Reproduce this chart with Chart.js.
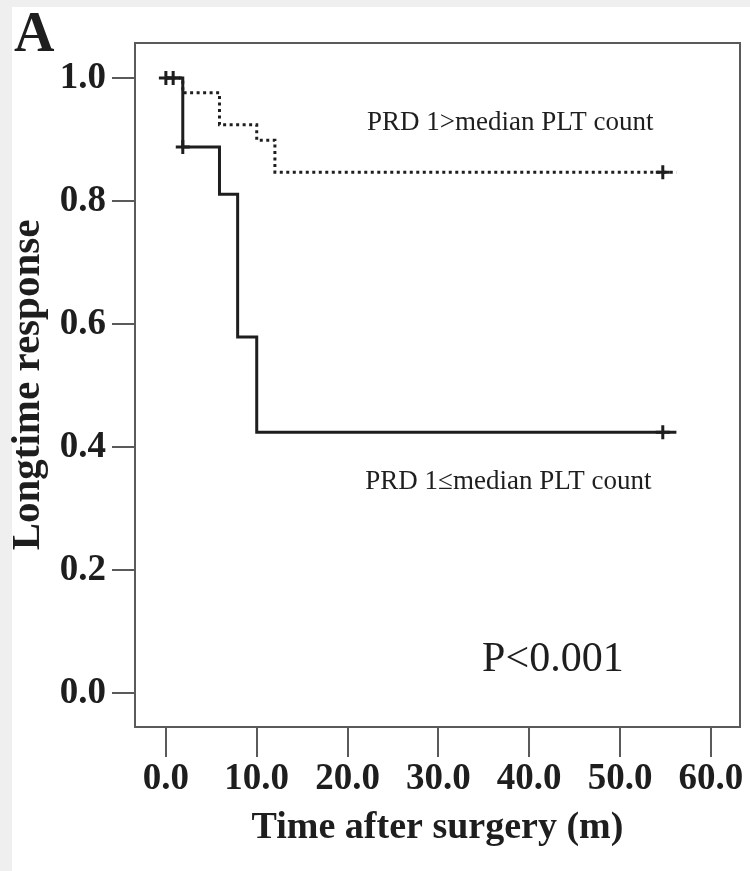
<!DOCTYPE html>
<html>
<head>
<meta charset="utf-8">
<script src="https://cdn.jsdelivr.net/npm/chart.js@4"></script>
<style>
body{margin:0;background:#efefef;}
canvas{display:block;}
</style>
</head>
<body>
<canvas id="km" width="750" height="871"></canvas>
<script>
// survival steps (time in months, proportion responding)
const solidTimes=[0,1.86,5.9,7.9,10.0,56.2];
const solidSurv=[1.0,0.888,0.811,0.579,0.424,0.424];
const dottedTimes=[0,1.86,5.9,10.0,12.0,56.2];
const dottedSurv=[1.0,0.976,0.924,0.899,0.847,0.847];
// censored cases
const solidCensorTimes=[0,0.8,1.86,54.7];
const solidCensorSurv=[1.0,1.0,0.888,0.424];
const dottedCensorTimes=[54.7];
const dottedCensorSurv=[0.847];
const xTicks=[0,10,20,30,40,50,60];
const yTicks=[0,0.2,0.4,0.6,0.8,1.0];

const serif="'Liberation Serif','Times New Roman',serif";
const ink="#1e1e1e";

function pts(xs,ys){return xs.map((x,i)=>({x:x,y:ys[i]}));}

const decor={
    id:"decor",
    beforeDraw(chart){
        const ctx=chart.ctx;
        ctx.save();
        ctx.fillStyle="#efefef";
        ctx.fillRect(0,0,chart.width,chart.height);
        ctx.fillStyle="#fff";
        ctx.fillRect(12,7,chart.width-12,chart.height-7);
        ctx.restore();
    },
    afterDraw(chart){
        const ctx=chart.ctx, a=chart.chartArea;
        const xs=chart.scales.x, ys=chart.scales.y;
        ctx.save();
        ctx.strokeStyle="#5a5a5a";
        ctx.lineWidth=2;
        ctx.strokeRect(a.left,a.top,a.right-a.left,a.bottom-a.top);
        ctx.fillStyle=ink;
        ctx.textAlign="center";
        ctx.textBaseline="middle";
        ctx.font="27px "+serif;
        ctx.fillText("PRD 1>median PLT count",xs.getPixelForValue(37.9),ys.getPixelForValue(0.927));
        ctx.fillText("PRD 1\u2264median PLT count",xs.getPixelForValue(37.7),ys.getPixelForValue(0.343));
        ctx.font="42px "+serif;
        ctx.fillText("P<0.001",xs.getPixelForValue(42.6),ys.getPixelForValue(0.054));
        ctx.textAlign="left";
        ctx.textBaseline="alphabetic";
        ctx.font="bold 56px "+serif;
        ctx.fillText("A",14,51);
        ctx.restore();
    }
};

new Chart(document.getElementById("km"),{
    type:"scatter",
    data:{datasets:[
        {label:"PRD 1\u2264median", data:pts(solidTimes,solidSurv), showLine:true, stepped:"before",
         borderColor:ink, borderWidth:3, pointRadius:0, order:1},
        {label:"PRD 1>median", data:pts(dottedTimes,dottedSurv), showLine:true, stepped:"before",
         borderColor:ink, borderWidth:3, borderDash:[3,3.5], pointRadius:0, order:2},
        {label:"censored low", data:pts(solidCensorTimes,solidCensorSurv), showLine:false,
         pointStyle:"cross", pointRadius:7, borderColor:ink, pointBorderWidth:3, order:0},
        {label:"censored high", data:pts(dottedCensorTimes,dottedCensorSurv), showLine:false,
         pointStyle:"cross", pointRadius:7, borderColor:ink, pointBorderWidth:3, order:0}
    ]},
    options:{
        responsive:false,
        animation:false,
        layout:{padding:{left:0,top:43,right:8,bottom:0}},
        plugins:{legend:{display:false},tooltip:{enabled:false}},
        scales:{
            x:{
                type:"linear", min:-3.4, max:63.2,
                afterBuildTicks:s=>{s.ticks=xTicks.map(v=>({value:v}));},
                afterFit:s=>{s.height=144;},
                grid:{drawOnChartArea:false, drawTicks:true, tickLength:30, color:"#5a5a5a", lineWidth:2},
                border:{display:true, color:"#5a5a5a", width:2},
                ticks:{padding:0, color:ink, maxRotation:0, autoSkip:false,
                       font:{family:serif, size:37, weight:"bold"},
                       callback:v=>v.toFixed(1)},
                title:{display:true, text:"Time after surgery (m)", color:ink,
                       font:{family:serif, size:38, weight:"bold"}, padding:{top:0,bottom:20}}
            },
            y:{
                type:"linear", min:-0.055, max:1.057,
                afterBuildTicks:s=>{s.ticks=yTicks.map(v=>({value:v}));},
                afterFit:s=>{s.width=135;},
                grid:{drawOnChartArea:false, drawTicks:true, tickLength:23, color:"#5a5a5a", lineWidth:2},
                border:{display:true, color:"#5a5a5a", width:2},
                ticks:{padding:6, color:ink, autoSkip:false,
                       font:{family:serif, size:37, weight:"bold"},
                       callback:v=>v.toFixed(1)},
                title:{display:true, text:"Longtime response", color:ink,
                       font:{family:serif, size:41, weight:"bold"}, padding:{top:4,bottom:0}}
            }
        }
    },
    plugins:[decor]
});
</script>
</body>
</html>
